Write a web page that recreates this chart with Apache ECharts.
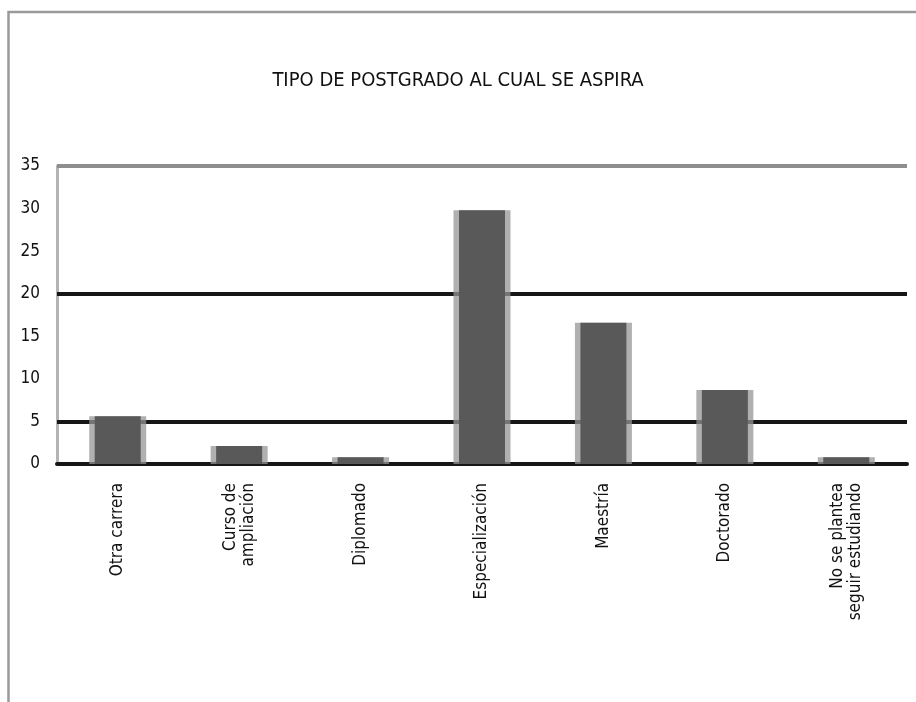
<!DOCTYPE html>
<html>
<head>
<meta charset="utf-8">
<script src="https://cdn.jsdelivr.net/npm/echarts@6/dist/echarts.min.js"></script>
<style>
  html, body { margin: 0; padding: 0; background: #fff; }
  #chart { width: 916px; height: 702px; }
</style>
</head>
<body>
<div id="chart"></div>
<script>
// Postgraduate type aspired to: counts per category
const categories = [
  'Otra carrera',
  'Curso de\nampliación',
  'Diplomado',
  'Especialización',
  'Maestría',
  'Doctorado',
  'No se plantea\nseguir estudiando'
];
const values = [5.6, 2.1, 0.8, 29.8, 16.6, 8.7, 0.8];
const yTicks = [0, 5, 10, 15, 20, 25, 30, 35];
const titleText = 'TIPO DE POSTGRADO AL CUAL SE ASPIRA';

const FONT = '"Liberation Sans Narrow", "Arial Narrow", "DejaVu Sans Condensed", sans-serif';

const chart = echarts.init(document.getElementById('chart'));
chart.setOption({
  animation: false,
  backgroundColor: '#fff',
  title: {
    text: titleText,
    left: 'center',
    top: 66,
    textStyle: { fontFamily: FONT, fontSize: 20, fontWeight: 'normal', color: '#111' }
  },
  graphic: [
    {
      type: 'polyline',
      shape: { points: [[8.5, 702], [8.5, 12], [916, 12]] },
      style: { stroke: '#9a9a9a', lineWidth: 2.5, fill: null }
    }
  ],
  grid: { left: 57, right: 9, top: 166, bottom: 238 },
  xAxis: [
    {
      type: 'category',
      data: categories,
      axisLine: { show: true, lineStyle: { color: '#161616', width: 4 } },
      axisTick: { show: false },
      axisLabel: {
        rotate: 90,
        margin: 19,
        fontFamily: FONT,
        fontSize: 17,
        lineHeight: 18,
        color: '#111',
        align: 'right',
        verticalAlign: 'middle'
      }
    },
    {
      // companion axis so the front faces sit centred over the side faces
      type: 'category',
      data: categories,
      show: false
    }
  ],
  yAxis: {
    type: 'value',
    min: yTicks[0],
    max: yTicks[yTicks.length - 1],
    interval: 5,
    axisLine: { show: true, lineStyle: { color: '#b4b4b4', width: 3 } },
    axisTick: { show: false },
    splitLine: { show: false },
    axisLabel: { margin: 17, fontFamily: FONT, fontSize: 17, color: '#111' }
  },
  series: [
    {
      // lighter side faces of each bar
      type: 'bar',
      xAxisIndex: 0,
      data: values,
      barWidth: 57,
      z: 3,
      itemStyle: { color: 'rgba(150,150,150,0.75)' },
      markLine: {
        silent: true,
        symbol: 'none',
        label: { show: false },
        z: 1,
        data: [
          { yAxis: 5, lineStyle: { color: '#161616', width: 4, type: 'solid' } },
          { yAxis: 20, lineStyle: { color: '#161616', width: 4, type: 'solid' } },
          { yAxis: 35, lineStyle: { color: '#8e8e8e', width: 4, type: 'solid' } }
        ]
      }
    },
    {
      // front face of each bar
      type: 'bar',
      xAxisIndex: 1,
      data: values,
      barWidth: 46,
      z: 4,
      itemStyle: { color: '#595959' }
    }
  ]
});
</script>
</body>
</html>
